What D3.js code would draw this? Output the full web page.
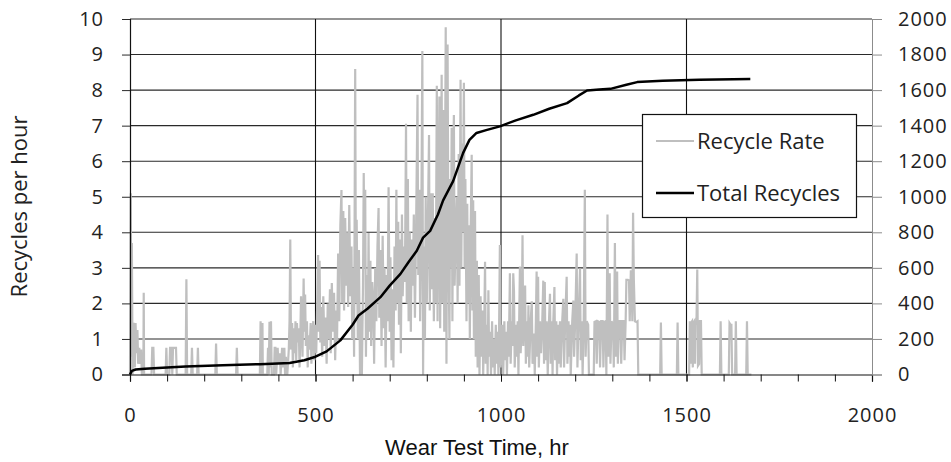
<!DOCTYPE html>
<html>
<head>
<meta charset="utf-8">
<script src="https://cdn.jsdelivr.net/npm/d3@7"></script>
<style>
  body { margin: 0; background: #fff; }
  svg { display: block; }
  .tick text { font-family: "Open Sans", sans-serif; font-size: 20px; fill: #222; letter-spacing: 1px; }
</style>
</head>
<body>
<svg id="chart" width="951" height="462"></svg>
<script>
// tick values
var xTicks = [0, 500, 1000, 1500, 2000];
var xMinorTicks = d3.range(0, 2001, 100);
var leftTicks = [0, 1, 2, 3, 4, 5, 6, 7, 8, 9, 10];
var rightTicks = [0, 200, 400, 600, 800, 1000, 1200, 1400, 1600, 1800, 2000];

// recycle rate (recycles per hour) vs wear test time
var recycleRate = [
  [0,0],[2,5.1],[4,0.5],[5,3.7],[7,0],[9,1.45],[11,1.4],[13,0.2],[15,1.45],[17,0.6],[20,1.25],[22,0.3],[25,0.75],[27,0.3],[30,0.7],[32,0],[36,0],[37,2.3],[38,0],
  [58,0],[60,0.75],[63,0.75],[65,0],[96,0],[98,0.75],[100,0],[106,0],[108,0.75],[112,0.75],[114,0],[116,0.75],[124,0.75],[126,0],
  [150,0],[152,2.68],[154,0],[165,0],[167,0.75],[169,0],[181,0],[183,0.75],[185,0],[230,0],[232,0.87],[234,0],[286,0],[288,0.75],[290,0],
  [350,0],[352,1.5],[353,0],[356,0],[357,1.45],[358,0],[370,0],[372,0.75],[374,0],[376,1.48],[378,0.2],[380,1.5],[382,0],[388,0],[390,0.75],[392,0.75],[394,0],
  [398,0.75],[400,0.3],[404,0.6],[406,0],[410,0.75],[412,0.2],[416,0.75],[418,0],[420,0.5],[424,0],[428,0.7],[430,1.5],[432,3.8],[434,0.7],[437,1.45],[439,0.2],
  [442,1.3],[444,0.6],[446,1.5],[448,0.4],[450,1.45],[452,0.9],[455,1.3],[457,0.2],[459,1.0],[461,2.2],[463,1.3],[465,0.5],[468,2.7],[470,1.2],[472,2.25],[474,0.8],
  [477,1.5],[479,0.2],[481,1.1],[484,0.7],[487,1.45],[489,0.3],[492,1.2],[494,1.5],[497,0.4],[499,1.4],[502,0.6],[505,2.2],[507,3.36],[509,1.2],[511,3.2],[513,0.9],
  [515,1.9],[518,0.5],[521,2.2],[524,0.8],[527,1.6],[530,0.3],[533,2.0],[536,1.0],[539,2.4],[541,0.6],[544,2.57],[547,1.2],[550,2.3],[553,0.4],[556,1.8],[558,0.9],
  [561,3.4],[564,1.5],[567,4.2],[570,5.19],[572,2.0],[575,4.6],[577,1.8],[580,4.4],[583,2.5],[586,4.0],[588,1.9],[591,4.77],[594,2.2],[597,3.6],[599,1.0],
  [602,3.0],[604,0.5],[607,8.59],[609,2.0],[611,4.35],[614,1.0],[617,3.5],[620,0],[623,1.8],[625,0],[628,2.5],[630,5.67],[632,3.0],[634,5.2],[636,0.5],[638,2.8],
  [641,1.0],[643,3.98],[645,1.2],[648,3.2],[650,0.8],[653,2.6],[656,2.0],[658,0.3],[661,3.0],[664,1.5],[667,3.6],[670,4.68],[672,1.6],[675,3.5],[678,0.8],[681,3.9],
  [684,1.3],[686,3.0],[689,0.2],[692,2.8],[694,1.5],[697,5.27],[700,1.2],[702,3.3],[705,0.4],[708,2.4],[710,0.2],[713,3.6],[716,1.8],[718,5.2],[720,2.0],[723,4.3],
  [725,1.4],[728,3.8],[730,0.6],[733,4.5],[735,2.2],[738,3.6],[741,2.6],[744,7.05],[746,2.0],[749,5.5],[751,1.5],[754,4.0],[757,1.2],[759,3.8],
  [762,2.5],[765,4.5],[768,1.6],[771,4.0],[775,7.87],[777,2.8],[780,5.2],[782,1.5],[785,3.9],[788,9.1],[790,0],[792,3.6],[795,1.0],[797,5.0],[800,2.0],[803,4.3],
  [806,6.74],[808,1.8],[811,5.1],[813,2.4],[816,5.1],[819,1.5],[822,4.4],[824,2.0],[827,8.12],[829,1.5],[832,5.5],[834,7.82],[836,1.3],[838,4.6],[840,8.43],[842,2.0],
  [845,7.44],[847,1.2],[849,5.2],[851,9.77],[853,0.3],[856,9.28],[858,4.0],[861,1.0],[863,5.5],[865,3.0],[867,6.94],[869,1.5],[871,5.8],[873,7.3],[875,2.5],[878,4.0],
  [881,5.0],[883,2.0],[886,6.2],[888,2.5],[891,8.29],[893,3.0],[895,6.5],[897,4.0],[900,8.21],[902,3.0],[904,5.5],[907,1.5],[909,4.8],[911,2.0],[914,4.2],[916,1.0],
  [918,3.8],[921,6.18],[923,1.8],[925,4.9],[927,1.0],[930,4.6],[932,0.5],[935,3.2],[937,0.2],[940,2.8],[942,0],[945,2.2],[947,0.5],[950,1.8],[952,0],[955,1.5],
  [957,3.17],[959,0.3],[962,1.4],[964,0],[966,2.37],[968,0.5],[971,1.2],[973,0],[976,1.5],[978,0.2],[981,1.0],[983,0],[986,1.4],[988,0.3],[991,1.2],[993,0],
  [995,1.5],[997,3.64],[999,0.2],[1001,0.5],[1004,1.4],[1006,0],[1009,1.5],[1011,0.4],[1014,1.2],[1016,0],[1019,1.5],[1021,0.5],[1024,2.85],[1026,0.3],[1029,1.5],
  [1031,0.8],[1033,2.85],[1035,2.35],[1037,0.2],[1040,1.4],[1042,0.5],[1045,1.5],[1047,0],[1051,3.04],[1053,0.6],[1056,1.5],[1058,3.92],[1060,0.8],[1062,1.5],
  [1065,2.5],[1067,0.3],[1070,1.5],[1072,0.5],[1074,1.95],[1076,0.2],[1080,1.5],[1083,2.06],[1085,0.3],[1089,1.15],[1091,0],[1094,1.5],[1096,2.9],[1098,0.5],
  [1100,2.75],[1102,0.2],[1105,1.5],[1108,0.6],[1111,1.4],[1114,2.64],[1116,0.3],[1118,2.6],[1120,0.4],[1123,1.5],[1126,0],[1129,1.4],[1132,2.27],[1134,0.3],
  [1137,1.5],[1139,0],[1141,1.5],[1144,2.46],[1146,0.4],[1149,1.5],[1151,0],[1154,1.4],[1156,0.3],[1159,1.5],[1161,0.2],[1165,1.5],[1168,2.13],[1170,0.2],
  [1173,1.5],[1177,2.75],[1179,0.3],[1182,1.5],[1184,0.5],[1186,1.4],[1188,0],[1192,1.5],[1195,2.08],[1197,0.5],[1200,1.5],[1204,3.4],[1206,0.2],[1209,1.5],
  [1213,2.98],[1215,0.4],[1218,1.5],[1220,0],[1223,1.5],[1226,5.2],[1228,0.5],[1231,1.5],[1235,1.4],[1237,0],[1250,0],[1252,1.48],[1256,1.5],[1258,0.3],
  [1261,1.5],[1265,1.48],[1267,0.2],[1270,1.5],[1274,1.5],[1276,0.2],[1279,1.48],[1282,1.5],[1284,0],[1287,4.5],[1289,0.5],[1293,2.85],[1295,0.3],[1298,1.5],
  [1302,1.4],[1304,0.2],[1307,3.7],[1309,0.5],[1313,2.9],[1315,0.3],[1318,1.5],[1322,1.5],[1324,0.3],[1327,1.5],[1331,1.5],[1333,0.4],[1336,1.5],[1338,2.66],
  [1342,2.66],[1345,2.64],[1347,1.5],[1350,2.93],[1352,2.66],[1354,1.5],[1356,4.55],[1358,2.7],[1361,1.5],[1365,1.48],[1368,1.5],[1370,0],
  [1429,0],[1431,1.46],[1433,0],[1474,0],[1476,1.46],[1478,0],[1507,0],[1509,1.5],[1511,0.3],[1512,1.45],[1515,1.5],[1517,0.2],[1518,1.45],[1521,1.5],[1523,0.3],
  [1524,1.4],[1527,1.5],[1529,2.95],[1531,0.25],[1534,0.3],[1536,1.5],[1539,1.5],[1541,0],[1590,0],[1592,1.5],[1594,0],[1614,0],[1616,1.45],[1619,1.4],[1621,1.4],
  [1623,0],[1631,0],[1633,1.5],[1635,0],[1661,0],[1663,1.5],[1665,0],[1675,0]
];

// cumulative recycles vs wear test time
var totalRecycles = [
  [0,0],[5,20],[15,28],[40,33],[100,40],[150,45],[250,52],[350,58],[430,65],[470,80],[500,100],[530,130],[567,192],[600,280],[616,332],
  [640,370],[675,435],[700,500],[729,566],[750,630],[773,696],[790,770],[809,808],[830,900],[844,980],[871,1088],[898,1247],[915,1320],
  [934,1359],[960,1375],[997,1396],[1040,1430],[1087,1461],[1130,1495],[1178,1527],[1210,1570],[1232,1598],[1265,1604],[1295,1607],
  [1338,1630],[1367,1645],[1436,1652],[1535,1658],[1672,1662]
];

var legendItems = [
  { label: 'Recycle Rate', color: '#bfbfbf', width: 2 },
  { label: 'Total Recycles', color: '#000', width: 2.5 }
];

var svg = d3.select('#chart'),
  MARGINS = { top: 19, right: 79, bottom: 87.5, left: 130 },
  WIDTH = 951,
  HEIGHT = 462,
  x = d3.scaleLinear().domain([0, 2000]).range([MARGINS.left, WIDTH - MARGINS.right]),
  yLeft = d3.scaleLinear().domain([0, 10]).range([HEIGHT - MARGINS.bottom, MARGINS.top]),
  yRight = d3.scaleLinear().domain([0, 2000]).range([HEIGHT - MARGINS.bottom, MARGINS.top]);

var x0 = x.range()[0], x1 = x.range()[1], yBase = yLeft(0);

// horizontal gridlines
svg.append('g')
  .selectAll('line')
  .data(leftTicks.slice(1))
  .enter()
  .append('line')
  .attr('x1', x0).attr('x2', x1)
  .attr('y1', function(d) { return yLeft(d); })
  .attr('y2', function(d) { return yLeft(d); })
  .attr('stroke', '#2a2a2a')
  .attr('stroke-width', 1.1);

// vertical gridlines
svg.append('g')
  .selectAll('line')
  .data([500, 1000, 1500])
  .enter()
  .append('line')
  .attr('x1', function(d) { return x(d); })
  .attr('x2', function(d) { return x(d); })
  .attr('y1', yLeft(10)).attr('y2', yBase)
  .attr('stroke', '#111')
  .attr('stroke-width', 1.1);

// recycle rate series
var rateLine = d3.line()
  .x(function(d) { return x(d[0]); })
  .y(function(d) { return yLeft(d[1]); });

svg.append('path')
  .datum(recycleRate)
  .attr('fill', 'none')
  .attr('stroke', '#bfbfbf')
  .attr('stroke-width', 2.2)
  .attr('stroke-linejoin', 'miter')
  .attr('d', rateLine);

// axes
var fmt = d3.format('d');
var xAxis = d3.axisBottom(x).tickValues(xTicks).tickSize(7).tickPadding(26).tickFormat(fmt),
  xMinor = d3.axisBottom(x).tickValues(xMinorTicks).tickSize(7).tickFormat(''),
  leftAxis = d3.axisLeft(yLeft).tickValues(leftTicks).tickSize(8).tickPadding(18).tickFormat(fmt),
  rightAxis = d3.axisRight(yRight).tickValues(rightTicks).tickSize(10).tickPadding(16).tickFormat(fmt);

svg.append('g')
  .attr('class', 'x minor')
  .attr('transform', 'translate(0,' + yBase + ')')
  .call(xMinor)
  .call(function(g) { g.select('.domain').remove(); })
  .selectAll('line').attr('stroke', '#111');

var gx = svg.append('g')
  .attr('class', 'x axis')
  .attr('transform', 'translate(0,' + yBase + ')')
  .call(xAxis);
gx.select('.domain').attr('stroke', '#111').attr('stroke-width', 1.2);
gx.selectAll('line').attr('stroke', '#111');

var gl = svg.append('g')
  .attr('class', 'y axis')
  .attr('transform', 'translate(' + x0 + ',0)')
  .call(leftAxis);
gl.select('.domain').attr('stroke', '#111').attr('stroke-width', 1.2);
gl.selectAll('line').attr('stroke', '#2a2a2a');

var gr = svg.append('g')
  .attr('class', 'y axis right')
  .attr('transform', 'translate(' + x1 + ',0)')
  .call(rightAxis);
gr.select('.domain').attr('stroke', '#8c8c8c');
gr.selectAll('line').attr('stroke', '#8c8c8c');

// total recycles series
var totalLine = d3.line()
  .x(function(d) { return x(d[0]); })
  .y(function(d) { return yRight(d[1]); });

svg.append('path')
  .datum(totalRecycles)
  .attr('fill', 'none')
  .attr('stroke', '#000')
  .attr('stroke-width', 2.5)
  .attr('stroke-linejoin', 'round')
  .attr('d', totalLine);

// axis titles
svg.append('text')
  .attr('x', 477)
  .attr('y', 455)
  .attr('text-anchor', 'middle')
  .style('font-family', '"Liberation Sans", Arial, sans-serif')
  .style('font-size', '22px')
  .style('fill', '#111')
  .text('Wear Test Time, hr');

svg.append('text')
  .attr('transform', 'translate(27,206.5) rotate(-90)')
  .attr('text-anchor', 'middle')
  .style('font-family', '"Open Sans", sans-serif')
  .style('font-size', '22px')
  .style('fill', '#222')
  .text('Recycles per hour');

// legend
var legend = svg.append('g').attr('transform', 'translate(642,114)');
legend.append('rect')
  .attr('x', 0.5).attr('y', 0.5)
  .attr('width', 214).attr('height', 103)
  .attr('fill', '#fff')
  .attr('stroke', '#111')
  .attr('stroke-width', 1.2);

var item = legend.selectAll('g.item')
  .data(legendItems)
  .enter()
  .append('g')
  .attr('class', 'item')
  .attr('transform', function(d, i) { return 'translate(0,' + (27 + i * 52) + ')'; });

item.append('line')
  .attr('x1', 14).attr('x2', 52)
  .attr('stroke', function(d) { return d.color; })
  .attr('stroke-width', function(d) { return d.width; });

item.append('text')
  .attr('x', 55)
  .attr('dy', '0.35em')
  .style('font-family', '"Open Sans", sans-serif')
  .style('font-size', '22px')
  .style('fill', '#222')
  .text(function(d) { return d.label; });
</script>
</body>
</html>
